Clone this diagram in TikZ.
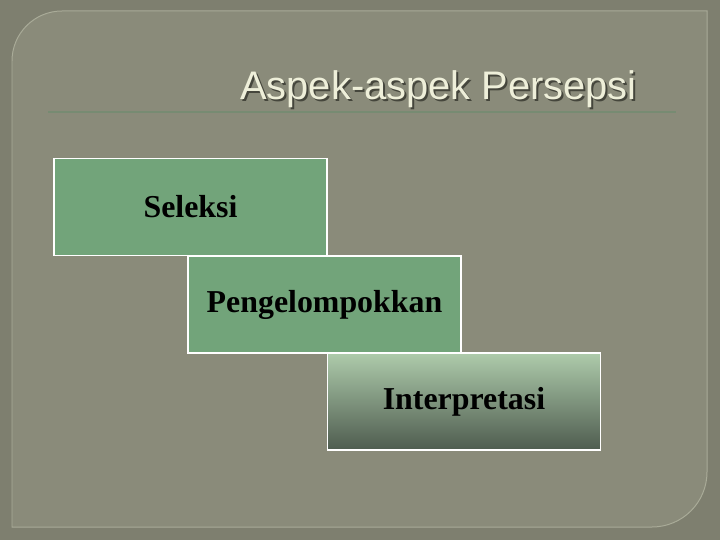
\documentclass[tikz,border=0pt]{standalone}
\usepackage{fontspec}
\setmainfont{Liberation Serif}
\newfontfamily\judulfont{Liberation Sans}
\usepackage[]{xcolor}
\usepackage{tikz}

\definecolor{latar}{HTML}{7E7F6F}
\definecolor{panel}{HTML}{8A8B7A}
\definecolor{tepi}{HTML}{A9AB98}
\definecolor{krem}{HTML}{EEEFD9}
\definecolor{bayang}{HTML}{45463C}
\definecolor{garis}{HTML}{778B72}
\definecolor{hijau}{HTML}{72A47A}
\definecolor{hijaumuda}{HTML}{AECBAB}
\definecolor{hijautengah}{HTML}{8EA78C}
\definecolor{hijaugelap}{HTML}{4E5C4F}

\tikzset{
    kotak/.style={draw=white, line width=1.2pt, fill=hijau, minimum width=273bp,
        minimum height=97bp, inner sep=0pt, font=\fontsize{32}{38}\selectfont\bfseries},
}

\begin{document}
\begin{tikzpicture}[x=1bp,y=-1bp]
    \useasboundingbox (0,0) rectangle (720,540);
    \fill[latar]    (0,0) rectangle (720,540);
    % panel with two rounded corners
    \draw[tepi, fill=panel, line width=1pt]    (12,527) -- (12,61)
        .. controls (12,33.4) and (34.4,11) .. (62,11) -- (707,11) -- (707,472)
        .. controls (707,502.4) and (682.4,527) .. (652,527) -- cycle;
    \draw    (440.5,102) node[anchor=base, bayang, font=\judulfont\fontsize{40}{48}\selectfont] {Aspek-aspek Persepsi};
    \draw    (438.5,100) node (judul) [anchor=base, krem, font=\judulfont\fontsize{40}{48}\selectfont] {Aspek-aspek Persepsi};
    \draw[garis, line width=2pt]    (48,112) -- (676,112);
    \node (seleksi) [kotak] at (190.5,207) {Seleksi};
    \node (pengelompokkan) [kotak] at (324.5,304.5) {Pengelompokkan};
    \node (interpretasi) [kotak, top color=hijaumuda, middle color=hijautengah,
        bottom color=hijaugelap] at (464,401.5) {Interpretasi};
\end{tikzpicture}
\end{document}
